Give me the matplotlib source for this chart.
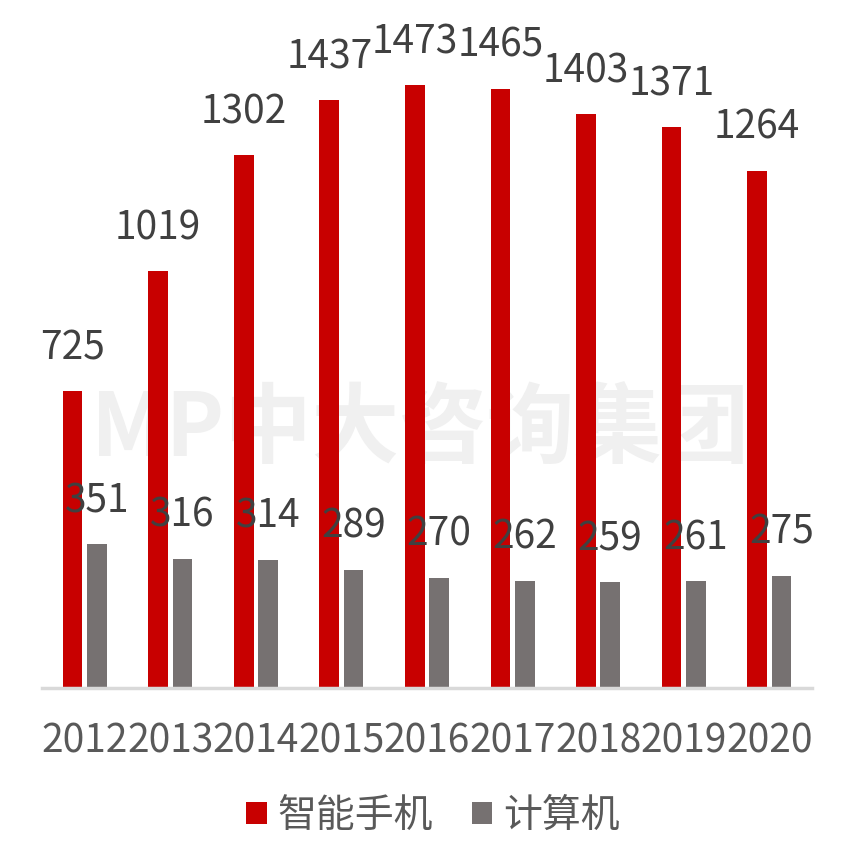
import matplotlib
matplotlib.use("Agg")
import matplotlib.pyplot as plt
import numpy as np

years = ["2012", "2013", "2014", "2015", "2016", "2017", "2018", "2019", "2020"]
smartphone = [725, 1019, 1302, 1437, 1473, 1465, 1403, 1371, 1264]
computer = [351, 316, 314, 289, 270, 262, 259, 261, 275]
series_names = ["智能手机", "计算机"]

RED = "#c80000"
GRAY = "#767171"

plt.rcParams['font.family'] = ["Noto Sans CJK SC", "DejaVu Sans"]

fig = plt.figure(figsize=(8.42, 8.64), dpi=100)
ax = fig.add_axes([42/842, 1-688/864, 770/842, 668/864])

x = np.arange(len(years))
w = 0.23
off = 0.142

ax.text(420/842, 1-432/864, "MP中大咨询集团", transform=fig.transFigure,
        fontsize=63, fontweight='bold', color="#f0f0f0", ha='center', va='center',
        zorder=0)

b1 = ax.bar(x - off, smartphone, w, color=RED, zorder=2, label=series_names[0])
b2 = ax.bar(x + off, computer, w, color=GRAY, zorder=2, label=series_names[1])

for xi, v in zip(x, smartphone):
    ax.annotate(str(v), (xi - off, v), xytext=(0, 23), textcoords='offset points',
                ha='center', va='baseline', fontsize=28, color="#404040",
                fontweight='light', zorder=3)
for xi, v in zip(x, computer):
    ax.annotate(str(v), (xi + off, v), xytext=(0, 23), textcoords='offset points',
                ha='center', va='baseline', fontsize=28, color="#404040",
                fontweight='light', zorder=3)

ax.set_xlim(-0.5, len(years) - 0.5)
ax.set_ylim(0, 1633)
ax.set_xticks(x)
ax.set_xticklabels(years, fontsize=28, color="#595959", fontweight='light')
ax.tick_params(axis='x', length=0, pad=24)
ax.set_yticks([])
for s in ['top', 'right', 'left']:
    ax.spines[s].set_visible(False)
ax.spines['bottom'].set_color("#d9d9d9")
ax.spines['bottom'].set_linewidth(2.5)
ax.set_facecolor('none')

leg = fig.legend(handles=[b1, b2], labels=series_names, loc='center',
                 bbox_to_anchor=(433/842, 1-816/864), ncol=2, frameon=False,
                 handlelength=0.52, handleheight=0.5,
                 handletextpad=0.28, columnspacing=1.0,
                 prop={'size': 28, 'weight': 'light'})
for t in leg.get_texts():
    t.set_color("#595959")

fig.savefig("out.png", dpi=100)
